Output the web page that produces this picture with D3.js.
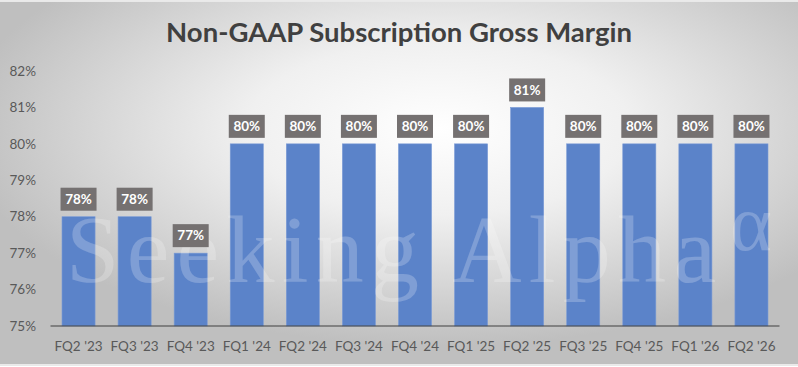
<!DOCTYPE html>
<html>
<head>
<meta charset="utf-8">
<script src="https://cdn.jsdelivr.net/npm/d3@7"></script>
<style>
  body { margin: 0; background: #fff; }
  svg { display: block; }
</style>
</head>
<body>
<svg width="798" height="367"></svg>
<script>
const categories = ["FQ2 '23", "FQ3 '23", "FQ4 '23", "FQ1 '24", "FQ2 '24", "FQ3 '24", "FQ4 '24",
  "FQ1 '25", "FQ2 '25", "FQ3 '25", "FQ4 '25", "FQ1 '26", "FQ2 '26"];
const margins = [78, 78, 77, 80, 80, 80, 80, 80, 81, 80, 80, 80, 80];
const yTicks = [75, 76, 77, 78, 79, 80, 81, 82];
const title = "Non-GAAP Subscription Gross Margin";

const svg = d3.select("svg");
const width = +svg.attr("width");
const height = +svg.attr("height");
const font = "Lato, 'Open Sans', sans-serif";

// background gradient
const defs = svg.append("defs");
const grad = defs.append("radialGradient")
  .attr("id", "bg")
  .attr("cx", "55%").attr("cy", "35%").attr("r", "60%");
grad.append("stop").attr("offset", "0%").attr("stop-color", "#ffffff");
grad.append("stop").attr("offset", "40%").attr("stop-color", "#f0f0f0");
grad.append("stop").attr("offset", "100%").attr("stop-color", "#bfbfbf");

svg.append("rect").attr("width", width).attr("height", height).attr("fill", "#fff");
svg.append("rect")
  .attr("x", 0).attr("y", 2)
  .attr("width", width).attr("height", 362)
  .attr("fill", "url(#bg)");
svg.append("line").attr("x1", 0).attr("x2", width).attr("y1", 1).attr("y2", 1)
  .attr("stroke", "#d4d4d4");
svg.append("line").attr("x1", 0).attr("x2", width).attr("y1", 365).attr("y2", 365)
  .attr("stroke", "#d4d4d4");

const x = d3.scaleBand()
  .domain(categories)
  .range([50.5, 779.5])
  .paddingInner(0.41)
  .paddingOuter(0.205);

const y = d3.scaleLinear().domain([75, 82]).range([326, 71]);

// title
svg.append("text")
  .attr("x", 399).attr("y", 42)
  .attr("text-anchor", "middle")
  .attr("font-family", font)
  .attr("font-weight", "bold")
  .attr("font-size", 27.5)
  .attr("fill", "#404040")
  .text(title);

// y axis labels
svg.append("g")
  .selectAll("text")
  .data(yTicks)
  .join("text")
  .attr("x", 36)
  .attr("y", (d) => y(d))
  .attr("dy", "0.35em")
  .attr("text-anchor", "end")
  .attr("font-family", font)
  .attr("font-size", 13.5)
  .attr("fill", "#595959")
  .text((d) => d + "%");

// bars
svg.append("g")
  .selectAll("rect")
  .data(margins)
  .join("rect")
  .attr("x", (d, i) => x(categories[i]))
  .attr("y", (d) => y(d))
  .attr("width", x.bandwidth())
  .attr("height", (d) => y(75) - y(d))
  .attr("fill", "#5b83c9")
  .attr("stroke", "#7b9bd6")
  .attr("stroke-width", 0.6);

// watermark
svg.append("text")
  .attr("x", 66).attr("y", 282)
  .attr("font-family", "'Liberation Serif', 'DejaVu Serif', serif")
  .attr("font-size", 96)
  .attr("fill", "#ffffff")
  .attr("fill-opacity", 0.22)
  .attr("textLength", 650)
  .text("Seeking Alpha");
svg.append("text")
  .attr("x", 730).attr("y", 250)
  .attr("font-family", "'Liberation Serif', 'DejaVu Serif', serif")
  .attr("font-size", 80)
  .attr("fill", "#ffffff")
  .attr("fill-opacity", 0.22)
  .text("α");

// x axis line
svg.append("line")
  .attr("x1", 50.5).attr("x2", 779.5)
  .attr("y1", y(75)).attr("y2", y(75))
  .attr("stroke", "#404040").attr("stroke-width", 1.2);

// x labels
svg.append("g")
  .selectAll("text")
  .data(categories)
  .join("text")
  .attr("x", (d) => x(d) + x.bandwidth() / 2)
  .attr("y", 346)
  .attr("dy", "0.35em")
  .attr("text-anchor", "middle")
  .attr("font-family", font)
  .attr("font-size", 13.5)
  .attr("fill", "#595959")
  .text((d) => d);

// data labels
const labels = svg.append("g")
  .selectAll("g")
  .data(margins)
  .join("g")
  .attr("transform", (d, i) => `translate(${x(categories[i]) + x.bandwidth() / 2},${y(d) - 6})`);
labels.append("rect")
  .attr("x", -18).attr("y", -23)
  .attr("width", 36).attr("height", 23)
  .attr("fill", "#757171");
labels.append("text")
  .attr("y", -11.5)
  .attr("dy", "0.35em")
  .attr("text-anchor", "middle")
  .attr("font-family", font)
  .attr("font-weight", "bold")
  .attr("font-size", 13.5)
  .attr("fill", "#ffffff")
  .text((d) => d + "%");
</script>
</body>
</html>
